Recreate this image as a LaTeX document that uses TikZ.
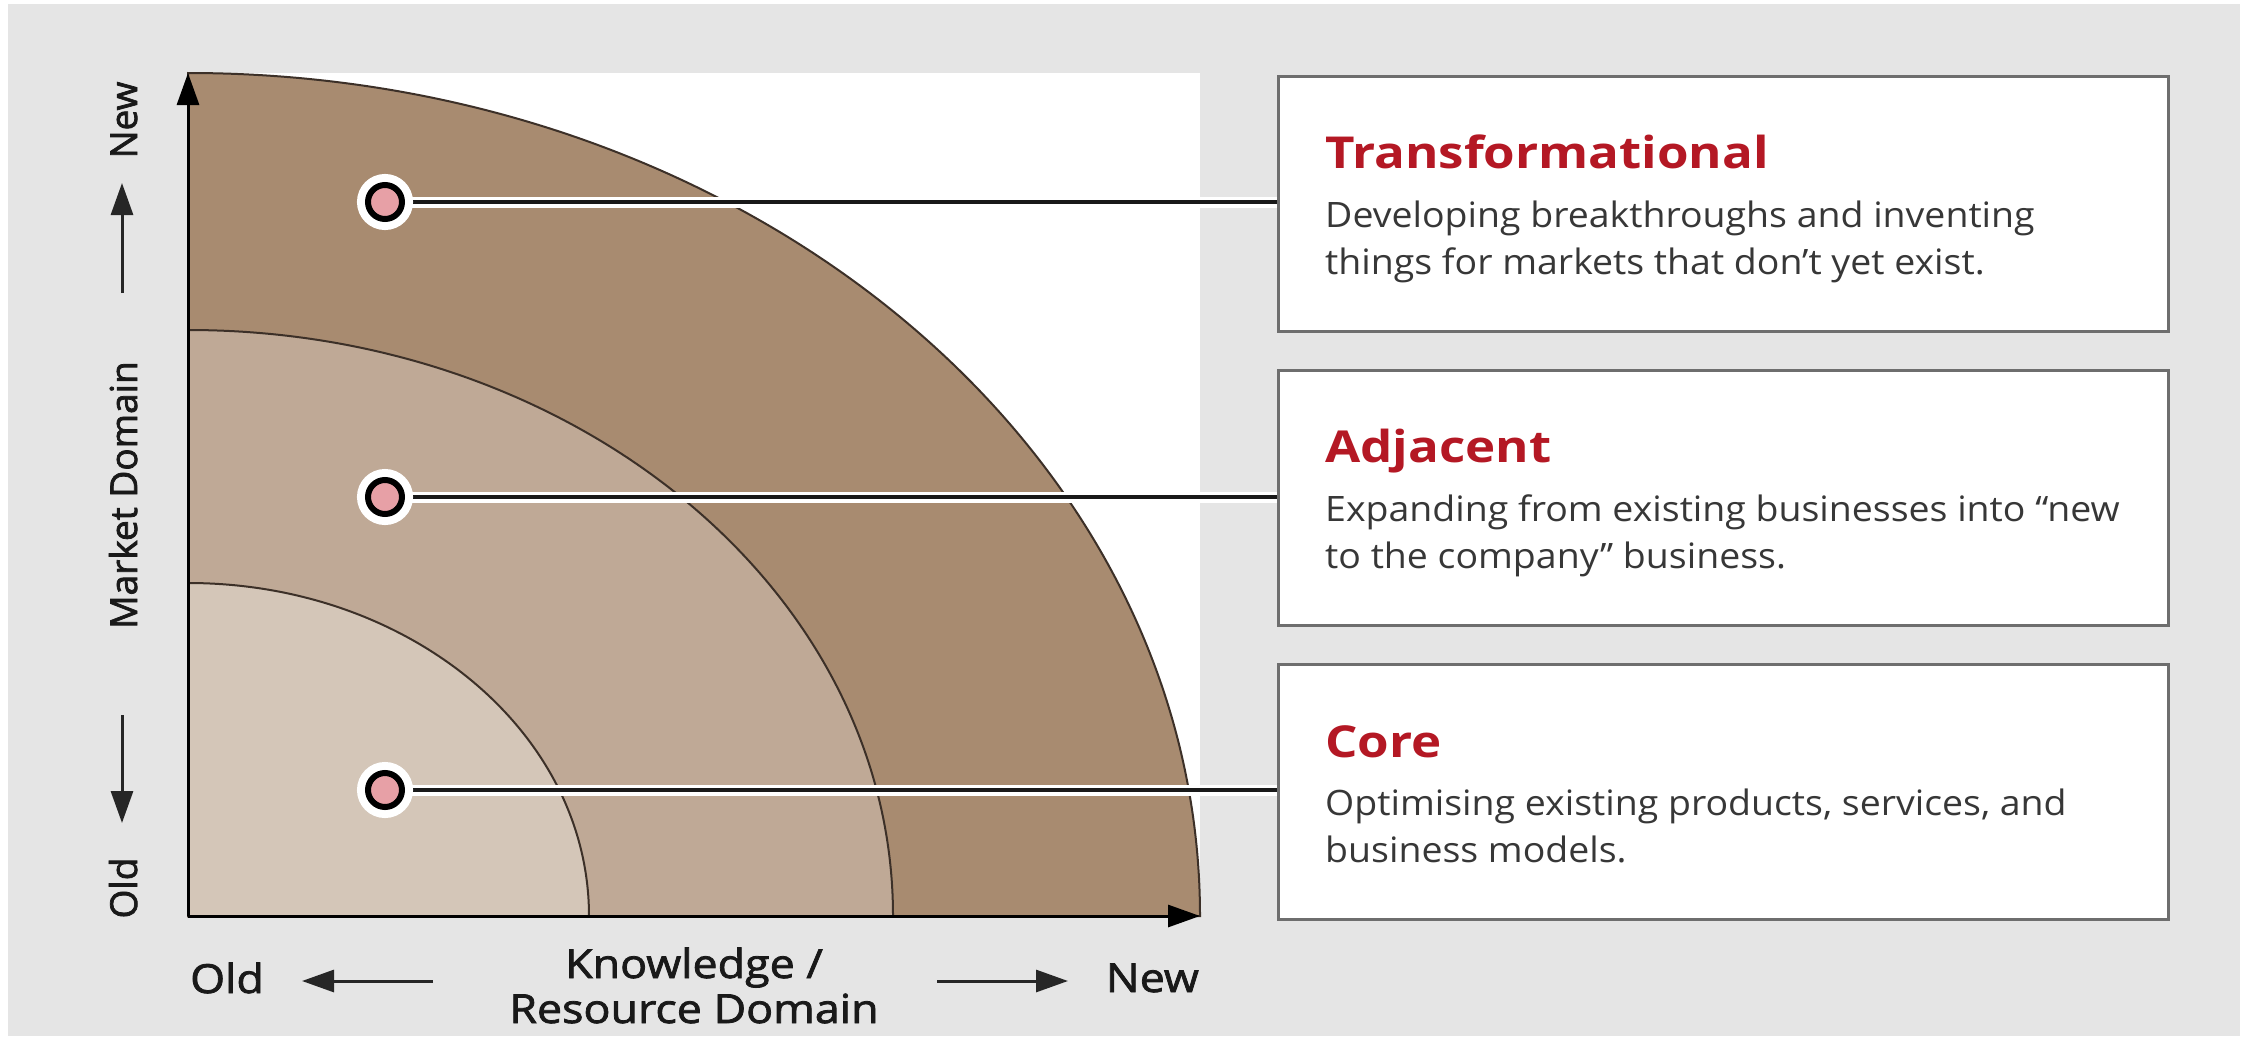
\documentclass[tikz,border=0pt]{standalone}
\usepackage{fontspec}
\setmainfont{Open Sans}
\newfontfamily\titlefont[FakeStretch=1.16]{Open Sans}
\newfontfamily\bodyfont[FakeStretch=1.07]{Open Sans}
\newfontfamily\labfont[FakeBold=2,FakeStretch=1.12]{Open Sans}
\newfontfamily\sidefont[FakeBold=2]{Open Sans}
\usetikzlibrary{arrows.meta}
\definecolor{bggray}{RGB}{229,229,229}
\definecolor{outerc}{RGB}{168,139,112}
\definecolor{midc}{RGB}{191,169,150}
\definecolor{innerc}{RGB}{212,198,184}
\definecolor{dotpink}{RGB}{231,160,166}
\definecolor{titred}{RGB}{180,24,36}
\definecolor{bodygray}{RGB}{55,55,55}
\definecolor{boxline}{RGB}{110,110,110}
\definecolor{arcline}{RGB}{60,48,40}
\tikzset{
  axisline/.style={line width=3pt, draw=black, -{Triangle[length=32pt,width=22pt]}},
  smallarrow/.style={line width=3pt, draw=black!85, -{Triangle[length=32pt,width=22pt]}},
  band/.style={draw=arcline, line width=2pt},
  descbox/.style={draw=boxline, line width=3pt, fill=white, anchor=north west,
    minimum width=890pt, minimum height=255pt, inner sep=0pt},
  dotnode/.style={circle, fill=dotpink, draw=black, line width=6pt, minimum size=34pt,
    inner sep=0pt, preaction={draw=white, line width=22pt}},
  linkline/.style={draw=white, line width=3.5pt, double=black!90, double distance=4pt},
  titletext/.style={anchor=base west, text=titred, inner sep=0pt,
    font=\titlefont\bfseries\fontsize{44}{50}\selectfont},
  bodytext/.style={anchor=base west, text=bodygray, inner sep=0pt, align=left,
    font=\bodyfont\fontsize{35}{47}\selectfont},
  axlabel/.style={inner sep=0pt, text=black!90, font=\labfont\fontsize{40}{44}\selectfont},
  sidelabel/.style={inner sep=0pt, rotate=90, anchor=base, text=black!90,
    font=\sidefont\fontsize{37}{40}\selectfont}
}
\begin{document}
\begin{tikzpicture}[x=1pt,y=-1pt]
\useasboundingbox (0,0) rectangle (2251,1036);
\fill[white] (0,0) rectangle (2251,1036);
\fill[bggray] (8,4) rectangle (2240,1036);
\fill[white] (188,73) rectangle (1200,916);

\coordinate (O) at (188,916);
\coordinate (xend) at (1200,916);
\coordinate (yend) at (188,73);

% bands
\filldraw[band, fill=outerc] (O) -- ++(1012,0) arc[start angle=0, end angle=90, x radius=1012pt, y radius=843pt] -- cycle;
\filldraw[band, fill=midc] (O) -- ++(705,0) arc[start angle=0, end angle=90, x radius=705pt, y radius=586pt] -- cycle;
\filldraw[band, fill=innerc] (O) -- ++(401,0) arc[start angle=0, end angle=90, x radius=401pt, y radius=333pt] -- cycle;

% axes
\draw[axisline] (O) -- (xend);
\draw[axisline] (O) -- (yend);

% description boxes
\node[descbox] (b1) at (1277,75) {};
\node[descbox] (b2) at (1277,369) {};
\node[descbox] (b3) at (1277,663) {};

\node[titletext] (t1) at (1325,168) {Transformational};
\node[bodytext] (d1) at (1325,274) {Developing breakthroughs and inventing\\things for markets that don’t yet exist.};
\node[titletext] (t2) at (1325,462) {Adjacent};
\node[bodytext] (d2) at (1325,568) {Expanding from existing businesses into “new\\to the company” business.};
\node[titletext] (t3) at (1325,757) {Core};
\node[bodytext] (d3) at (1325,862) {Optimising existing products, services, and\\business models.};

% connectors
\coordinate (c1) at (385,202);
\coordinate (c2) at (385,497);
\coordinate (c3) at (385,790);
\draw[linkline] (c1) -- (c1 -| b1.west);
\draw[linkline] (c2) -- (c2 -| b2.west);
\draw[linkline] (c3) -- (c3 -| b3.west);
\node[dotnode] (p1) at (c1) {};
\node[dotnode] (p2) at (c2) {};
\node[dotnode] (p3) at (c3) {};

% side labels
\node[sidelabel] (sNew) at (137,120) {New};
\node[sidelabel] (sMkt) at (137,495) {Market Domain};
\node[sidelabel] (sOld) at (137,888) {Old};
\coordinate (ua1) at (122,293);
\coordinate (ua2) at (122,183);
\coordinate (da1) at (122,715);
\coordinate (da2) at (122,823);
\draw[smallarrow] (ua1) -- (ua2);
\draw[smallarrow] (da1) -- (da2);

% bottom labels
\node[axlabel, anchor=base west] (bOld) at (190,993) {Old};
\node[axlabel, anchor=base east] (bNew) at (1199,992) {New};
\node[axlabel, anchor=base] (k1) at (694,978) {Knowledge /};
\node[axlabel, anchor=base] (k2) at (694,1023) {Resource Domain};
\coordinate (la1) at (433,981);
\coordinate (la2) at (302,981);
\coordinate (ra1) at (937,981);
\coordinate (ra2) at (1068,981);
\draw[smallarrow] (la1) -- (la2);
\draw[smallarrow] (ra1) -- (ra2);
\end{tikzpicture}
\end{document}
